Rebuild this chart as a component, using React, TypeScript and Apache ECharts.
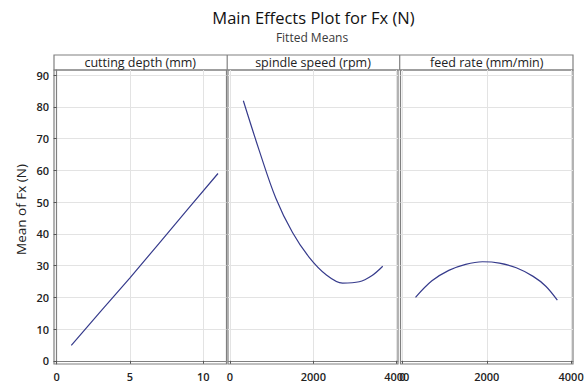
import React, { useEffect, useRef } from "react";
import * as echarts from "echarts";

// Text
const chartTitle = "Main Effects Plot for Fx (N)";
const chartSubtitle = "Fitted Means";
const yAxisName = "Mean of Fx (N)";
const factors = ["cutting depth (mm)", "spindle speed (rpm)", "feed rate (mm/min)"];

// Tick labels
const yTicks = [0, 10, 20, 30, 40, 50, 60, 70, 80, 90];
const depthTicks = [0, 5, 10];
const speedTicks = [0, 2000, 4000];
const feedTicks = [0, 2000, 4000];

// Fitted means per factor: [factor level, mean Fx]
const depthMeans: [number, number][] = [
  [1, 4.9], [3, 15.6], [5, 26.1], [7, 37.1], [9, 48.1], [11, 59.0],
];
const speedMeans: [number, number][] = [
  [320, 81.9], [700, 66.3], [1100, 51.2], [1500, 40.4], [1900, 32.6],
  [2300, 27.2], [2700, 24.5], [3100, 24.9], [3400, 26.8], [3665, 29.8],
];
const feedMeans: [number, number][] = [
  [311, 20.0], [700, 25.2], [1100, 28.5], [1500, 30.4], [1900, 31.2],
  [2300, 30.8], [2700, 29.3], [3100, 26.6], [3400, 23.5], [3674, 19.1],
];

const FONT = '"Open Sans", "Noto Sans", sans-serif';
const LINE = "#363b8c";
const FRAME = "#808080";
const GRID = "#e3e3e3";
const TEXT = "#222222";

const panels = [
  { left: 54, width: 172.5, min: -0.18, max: 11.58, ticks: depthTicks, data: depthMeans, smooth: 0 },
  { left: 228, width: 170, min: -48, max: 4031, ticks: speedTicks, data: speedMeans, smooth: 0.35 },
  { left: 400.5, width: 172.5, min: -45, max: 4045, ticks: feedTicks, data: feedMeans, smooth: 0.35 },
];
const TOP = 70;
const HEIGHT = 294;
const HEADER_TOP = 55;

const plain = (v: number) => String(v);

export default function App() {
  const ref = useRef<HTMLDivElement>(null);

  useEffect(() => {
    if (!ref.current) return;
    const chart = echarts.init(ref.current, undefined, { renderer: "svg" });

    const grid = panels.map((p) => ({
      left: p.left,
      top: TOP,
      width: p.width,
      height: HEIGHT,
      show: true,
      borderColor: FRAME,
      borderWidth: 1.2,
      backgroundColor: "transparent",
    }));

    const xAxis = panels.map((p, i) => ({
      type: "value" as const,
      gridIndex: i,
      min: p.min,
      max: p.max,
      axisLine: { show: true, lineStyle: { color: FRAME, width: 1.2 } },
      axisTick: {
        show: true,
        customValues: p.ticks,
        length: 3,
        lineStyle: { color: "#555" },
      },
      axisLabel: {
        customValues: p.ticks,
        formatter: plain,
        margin: 7,
        color: TEXT,
        fontFamily: FONT,
        fontSize: 11,
        fontWeight: 600,
      },
      splitLine: { show: true, lineStyle: { color: GRID, width: 1 } },
    }));

    const yAxis = panels.map((_p, i) => ({
      type: "value" as const,
      gridIndex: i,
      min: -1.0,
      max: 91.6,
      axisLine: { show: i === 0, lineStyle: { color: FRAME, width: 1.2 } },
      axisTick: {
        show: i === 0,
        customValues: yTicks,
        length: 3,
        lineStyle: { color: "#555" },
      },
      axisLabel: {
        show: i === 0,
        customValues: yTicks,
        formatter: plain,
        margin: 5,
        color: TEXT,
        fontFamily: FONT,
        fontSize: 11,
        fontWeight: 600,
      },
      splitLine: { show: true, lineStyle: { color: GRID, width: 1 } },
    }));

    const series = panels.map((p, i) => ({
      type: "line" as const,
      xAxisIndex: i,
      yAxisIndex: i,
      data: p.data,
      smooth: p.smooth,
      showSymbol: false,
      lineStyle: { color: LINE, width: 1.2 },
    }));

    const right = panels[2].left + panels[2].width;
    const graphic: any[] = [
      {
        type: "text",
        x: 313.5,
        y: 17,
        style: {
          text: chartTitle,
          textAlign: "center",
          textVerticalAlign: "middle",
          font: `16.5px ${FONT}`,
          fill: "#111111",
        },
      },
      {
        type: "text",
        x: 312,
        y: 37,
        style: {
          text: chartSubtitle,
          textAlign: "center",
          textVerticalAlign: "middle",
          font: `12px ${FONT}`,
          fill: "#3a3a3a",
        },
      },
      {
        type: "text",
        x: 21,
        y: 209.5,
        rotation: Math.PI / 2,
        style: {
          text: yAxisName,
          textAlign: "center",
          textVerticalAlign: "middle",
          font: `13.5px ${FONT}`,
          fill: TEXT,
        },
      },
      {
        type: "rect",
        shape: { x: panels[0].left, y: HEADER_TOP, width: right - panels[0].left, height: TOP - HEADER_TOP },
        style: { fill: "none", stroke: FRAME, lineWidth: 1.2 },
      },
    ];
    panels.forEach((p, i) => {
      if (i > 0) {
        graphic.push({
          type: "line",
          shape: { x1: p.left - 0.8, y1: HEADER_TOP, x2: p.left - 0.8, y2: TOP },
          style: { stroke: FRAME, lineWidth: 1.2 },
        });
      }
      graphic.push({
        type: "text",
        x: p.left + p.width / 2,
        y: (HEADER_TOP + TOP) / 2,
        style: {
          text: factors[i],
          textAlign: "center",
          textVerticalAlign: "middle",
          font: `12.5px ${FONT}`,
          fill: TEXT,
        },
      });
    });

    chart.setOption({
      animation: false,
      backgroundColor: "#ffffff",
      grid,
      xAxis,
      yAxis,
      series,
      graphic,
    });

    return () => chart.dispose();
  }, []);

  return (
    <div
      ref={ref}
      style={{ position: "fixed", left: 0, top: 0, width: 587, height: 385 }}
    />
  );
}
